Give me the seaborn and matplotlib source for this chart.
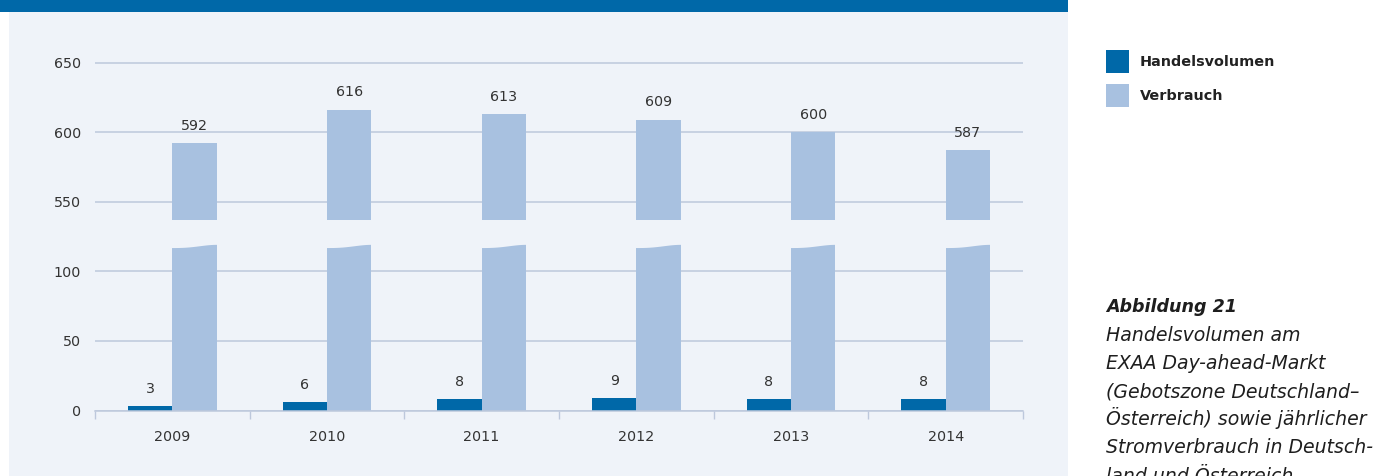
import numpy as np
import pandas as pd
import matplotlib
matplotlib.use("Agg")
import matplotlib.pyplot as plt
import seaborn as sns
from matplotlib.patches import Rectangle, Polygon

# ---------------- data ----------------
years = ["2009", "2010", "2011", "2012", "2013", "2014"]
handelsvolumen = [3, 6, 8, 9, 8, 8]
verbrauch = [592, 616, 613, 609, 600, 587]
series_names = ["Handelsvolumen", "Verbrauch"]
lower_ticks = [0, 50, 100]
upper_ticks = [550, 600, 650]
caption_title = "Abbildung 21"
caption_lines = [
    "Handelsvolumen am",
    "EXAA Day-ahead-Markt",
    "(Gebotszone Deutschland–",
    "Österreich) sowie jährlicher",
    "Stromverbrauch in Deutsch-",
    "land und Österreich",
]

# ---------------- style ----------------
DARK = "#0068A8"
LIGHT = "#A8C1E0"
PANEL = "#EFF3F9"
GRID = "#BDC8DC"
TEXT = "#333333"
CAP = "#1E1E1E"

plt.rcParams["font.family"] = ["DejaVu Sans"]

W, H = 1382, 476
fig = plt.figure(figsize=(W / 100, H / 100), dpi=100)
fig.patch.set_facecolor("white")


def fx(px):
    return px / W


def fy(py):
    return 1 - py / H


# panel and header band
fig.patches.append(Rectangle((fx(9), 0), fx(1068) - fx(9), fy(12), transform=fig.transFigure,
                             facecolor=PANEL, edgecolor="none", zorder=-10))
fig.patches.append(Rectangle((0, fy(12)), fx(1068), 12 / H, transform=fig.transFigure,
                             facecolor=DARK, edgecolor="none", zorder=-9))

df = pd.DataFrame({
    "Jahr": years * 2,
    "Reihe": [series_names[0]] * len(years) + [series_names[1]] * len(years),
    "Wert": handelsvolumen + verbrauch,
})

ppu = 69.6 / 50.0  # pixels per unit
x_left, x_right = 95, 1023
b_bottom, b_top = 410.5, 236.0
t_bottom, t_top = 219.8, 60.0
y650 = 62.5

ax_b = fig.add_axes([fx(x_left), fy(b_bottom), (x_right - x_left) / W, (b_bottom - b_top) / H])
ax_t = fig.add_axes([fx(x_left), fy(t_bottom), (x_right - x_left) / W, (t_bottom - t_top) / H])

for ax in (ax_b, ax_t):
    sns.barplot(data=df, x="Jahr", y="Wert", hue="Reihe", order=years, hue_order=series_names,
                palette=[DARK, LIGHT], saturation=1, width=0.573, linewidth=0,
                errorbar=None, ax=ax, legend=(ax is ax_b), zorder=3)
    ax.set_facecolor("none")
    ax.set_xlim(-0.5, len(years) - 0.5)
    ax.set_xlabel("")
    ax.set_ylabel("")
    for s in ax.spines.values():
        s.set_visible(False)
    ax.yaxis.grid(True, color=GRID, linewidth=1.1)
    ax.xaxis.grid(False)
    ax.set_axisbelow(True)
    ax.tick_params(axis="y", length=0, pad=10, labelsize=10.3, labelcolor=TEXT)

ax_b.set_ylim(0, (b_bottom - b_top) / ppu)
ax_t.set_ylim(650 - (t_bottom - y650) / ppu, 650 + (y650 - t_top) / ppu)
ax_b.set_yticks(lower_ticks)
ax_b.set_yticklabels([str(v) for v in lower_ticks])
ax_t.set_yticks(upper_ticks)
ax_t.set_yticklabels([str(v) for v in upper_ticks])
ax_t.set_xticks([])

ax_b.spines["bottom"].set_visible(True)
ax_b.spines["bottom"].set_color(GRID)
ax_b.spines["bottom"].set_linewidth(1.1)
ax_b.spines["bottom"].set_zorder(4)
ax_b.set_xticks(range(len(years)))
ax_b.set_xticklabels(years)
ax_b.tick_params(axis="x", which="major", length=0, pad=14, labelsize=10.3, labelcolor=TEXT)
ax_b.set_xticks(np.arange(-0.5, len(years)), minor=True)
ax_b.tick_params(axis="x", which="minor", length=5.5, width=1.0, color=GRID, direction="out")

# break waves on the lower part of the Verbrauch bars
ylim_b = ax_b.get_ylim()[1]
t = np.linspace(0, 1, 40)
wave_left, wave_right = 116.7, 119.0
for p in ax_b.containers[1]:
    x0, w = p.get_x(), p.get_width()
    xs = x0 + t * w
    ys = wave_left + (wave_right - wave_left) * (1 - np.cos(np.pi * t ** 1.3)) / 2
    pts = list(zip(xs, ys)) + [(x0 + w + 0.01, ys[-1]), (x0 + w + 0.01, ylim_b + 5),
                               (x0 - 0.01, ylim_b + 5), (x0 - 0.01, ys[0])]
    ax_b.add_patch(Polygon(pts, closed=True, facecolor=PANEL, edgecolor="none", zorder=5))

# value labels
for p, v in zip(ax_b.containers[0], handelsvolumen):
    ax_b.annotate(str(v), (p.get_x() + p.get_width() / 2, p.get_height()), xytext=(0, 9.6),
                  textcoords="offset points", ha="center", va="baseline",
                  fontsize=10.3, color=TEXT, zorder=6)
for p, v in zip(ax_t.containers[1], verbrauch):
    ax_t.annotate(str(v), (p.get_x() + p.get_width() / 2, p.get_height()), xytext=(0, 9.6),
                  textcoords="offset points", ha="center", va="baseline",
                  fontsize=10.3, color=TEXT, zorder=6, annotation_clip=False)

# legend
handles, labels = ax_b.get_legend_handles_labels()
if ax_b.get_legend() is not None:
    ax_b.get_legend().remove()
fs = 10.4
fspx = fs * 100 / 72
leg = fig.legend(handles, labels, loc="upper left", bbox_to_anchor=(fx(1106), fy(50)),
                 frameon=False, borderpad=0, borderaxespad=0,
                 handlelength=23 / fspx, handleheight=2.06,
                 labelspacing=11 / fspx, handletextpad=11 / fspx,
                 prop=dict(weight="bold", size=fs))
for txt in leg.get_texts():
    txt.set_color("#222222")

# caption
fig.text(fx(1106), fy(312.3), caption_title, ha="left", va="baseline", fontsize=12.6,
         fontweight="bold", fontstyle="italic", color=CAP)
for i, line in enumerate(caption_lines):
    fig.text(fx(1106), fy(340.6 + 28.2 * i), line, ha="left", va="baseline", fontsize=13.6,
             fontstyle="italic", color=CAP)

fig.savefig("out.png", dpi=100)
